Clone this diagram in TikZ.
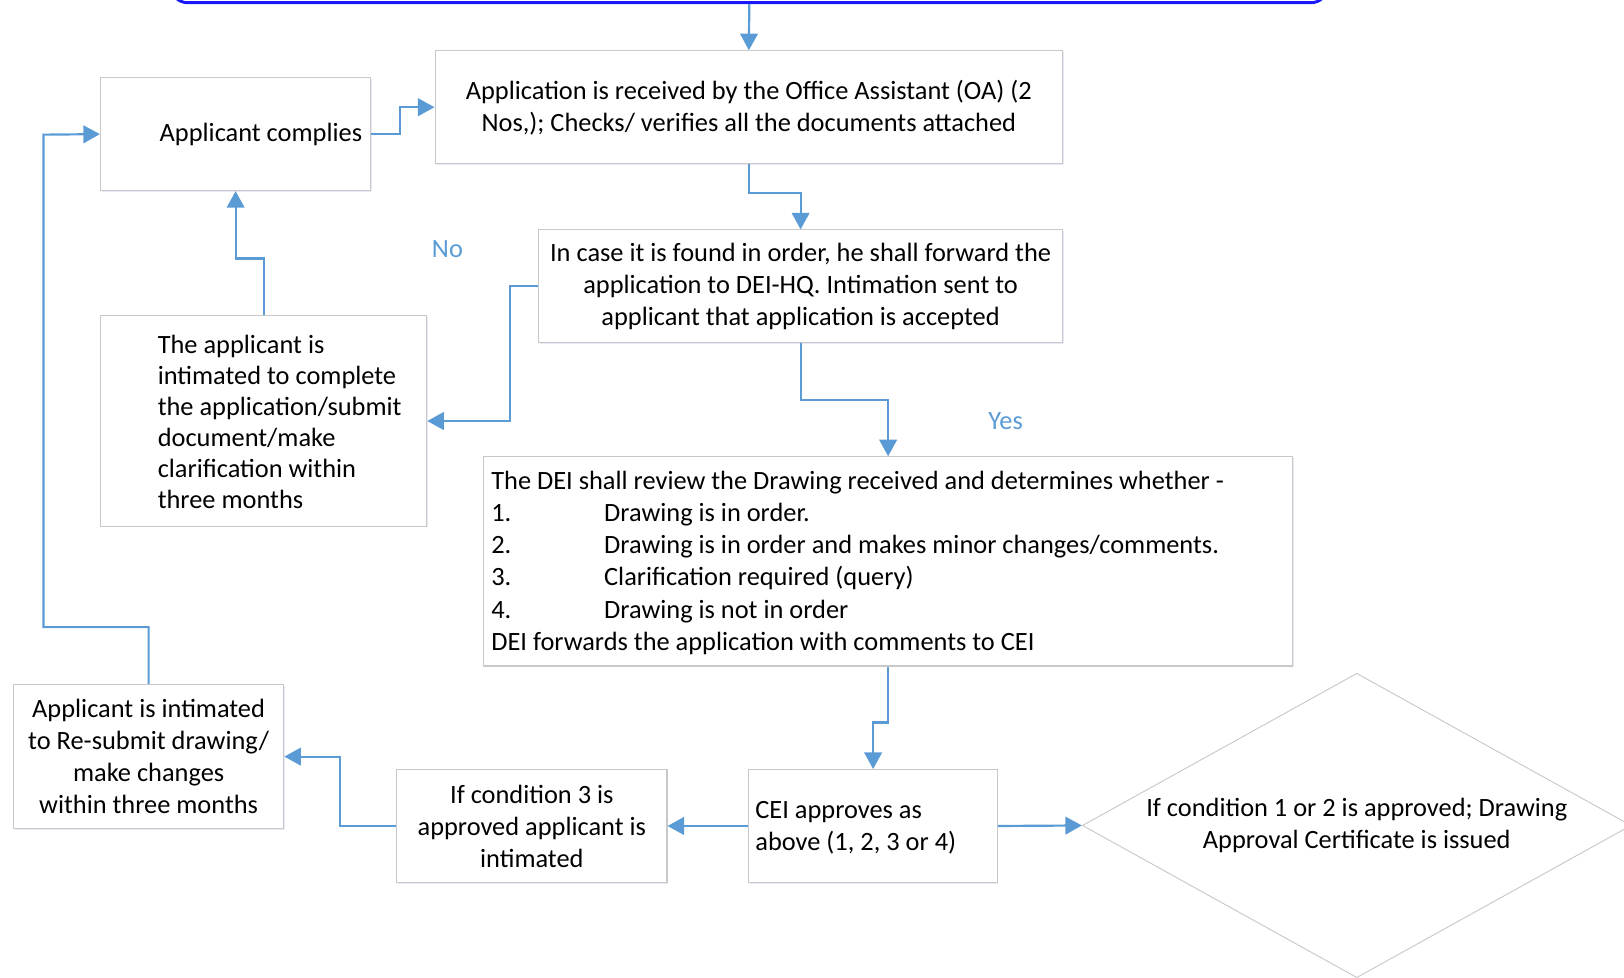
\documentclass[tikz,border=0pt]{standalone}
\usepackage{fontspec}
\setmainfont{Carlito}
\usepackage{tikz}
\usetikzlibrary{arrows.meta, shapes.geometric, shadows}
\definecolor{flowblue}{RGB}{91,155,213}
\definecolor{boxgray}{RGB}{200,200,200}
\definecolor{topblue}{RGB}{24,24,250}

\begin{document}
\begin{tikzpicture}[x=0.02cm, y=-0.02cm,
    every node/.style={font=\fontsize{14.5}{17.6}\selectfont, inner sep=0pt},
    box/.style={rectangle, draw=boxgray, line width=0.6pt, fill=white,
        drop shadow={shadow xshift=0.6pt, shadow yshift=-0.6pt, opacity=0.12, fill=blue!40!gray}},
    flow/.style={-{Triangle[length=0.32cm, width=0.34cm]}, draw=flowblue, line width=1.2pt},
    tag/.style={text=flowblue}]
    \useasboundingbox (0,0) rectangle (1568,944);

    \node[rectangle, rounded corners=0.32cm, draw=topblue, line width=1.6pt, fill=white, minimum width=22.34cm, minimum height=2cm, anchor=south] (start) at (723.5,4) {};

    \node[box, minimum width=12.12cm, minimum height=2.18cm, align=center] (oa) at (723,103.5) {Application is received by the Office Assistant (OA) (2\\Nos,); Checks/ verifies all the documents attached};
    \node[box, minimum width=5.22cm, minimum height=2.18cm] (comply) at (227.5,129.5) {};
    \node[anchor=east] (complytext) at (350,130) {Applicant complies};
    \node[box, minimum width=10.12cm, minimum height=2.18cm, align=center] (found) at (773,276.5) {In case it is found in order, he shall forward the\\application to DEI-HQ. Intimation sent to\\applicant that application is accepted};
    \node[box, minimum width=6.3cm, minimum height=4.06cm] (intim) at (254.5,406.5) {};
    \node[anchor=west, align=left, font=\fontsize{14.5}{17}\selectfont] (intimtext) at (152,407.5) {The applicant is\\intimated to complete\\the application/submit\\document/make\\clarification within\\three months};
    \node[box, minimum width=15.62cm, minimum height=4.04cm] (dei) at (857.5,542) {};
    \node[anchor=west, align=left] (deitext) at (474,543.5) {The DEI shall review the Drawing received and determines whether -\\
        \makebox[2.18cm][l]{1.}Drawing is in order.\\
        \makebox[2.18cm][l]{2.}Drawing is in order and makes minor changes/comments.\\
        \makebox[2.18cm][l]{3.}Clarification required (query)\\
        \makebox[2.18cm][l]{4.}Drawing is not in order\\
        DEI forwards the application with comments to CEI};
    \node[box, minimum width=4.8cm, minimum height=2.18cm] (cei) at (843,797.5) {};
    \node[anchor=west, align=left] (ceitext) at (729,799.5) {CEI approves as\\above (1, 2, 3 or 4)};
    \node[box, minimum width=5.22cm, minimum height=2.18cm, align=center] (cond) at (513.5,797.5) {If condition 3 is\\approved applicant is\\intimated};
    \node[box, minimum width=5.22cm, minimum height=2.78cm, align=center] (resub) at (143.5,730.5) {Applicant is intimated\\to Re-submit drawing/\\make changes\\within three months};
    \node[diamond, aspect=1.8, draw=boxgray, line width=0.5pt, fill=white, minimum width=10.6cm, minimum height=5.88cm, align=center] (issue) at (1310,797) {If condition 1 or 2 is approved; Drawing\\Approval Certificate is issued};

    \node[tag] (no) at (432,241) {No};
    \node[tag] (yes) at (971,407) {Yes};

    \coordinate (back) at (42,130);

    \draw[flow] (start.south) -- (oa.north);
    \draw[flow] (comply.east) -- ++(28,0) |- (oa.west);
    \draw[flow] (oa.south) -- ++(0,28) -| (found.north);
    \draw[flow] (found.west) -- ++(-27,0) |- (intim.east);
    \draw[flow] (intim.north) -- ++(0,-55) -| (comply.south);
    \draw[flow] (found.south) -- ++(0,55) -| (dei.north);
    \draw[flow] (dei.south) -- ++(0,54) -| (cei.north);
    \draw[flow] (cei.west) -- (cond.east);
    \draw[flow] (cond.west) -- ++(-54,0) |- (resub.east);
    \draw[flow] (resub.north) -- ++(0,-55) -| (back) -- (comply.west);
    \draw[flow] (cei.east) -- (issue.west);
\end{tikzpicture}
\end{document}
